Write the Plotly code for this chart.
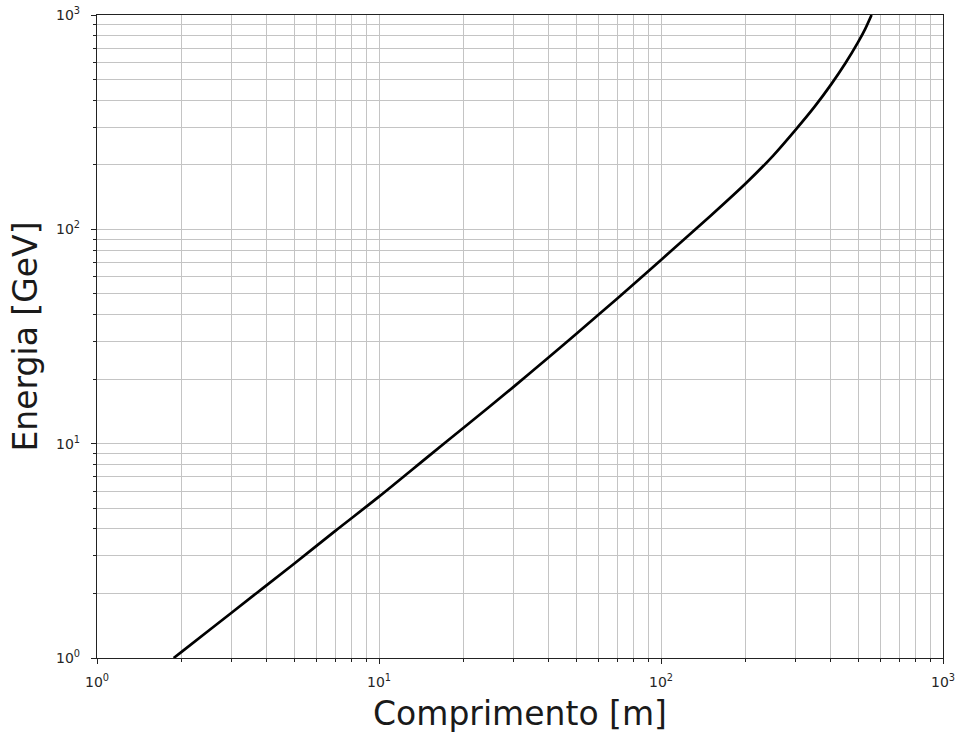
import plotly.graph_objects as go

# Data
comprimento_m = [1.87, 2, 3, 5, 7, 10, 15, 20, 30, 40, 50, 70, 100, 150, 200, 250,
                 300, 350, 400, 450, 500, 530, 558]
energia_gev = [1.0, 1.071, 1.627, 2.754, 3.92, 5.66, 8.75, 11.9, 18.4, 25.3, 32.5, 47.6,
               72, 115.7, 164, 220.8, 291, 372.4, 472, 593.6, 747, 861.7, 1000]

major_vals = [1, 10, 100, 1000]
major_text = ["10<sup>0</sup>", "10<sup>1</sup>", "10<sup>2</sup>", "10<sup>3</sup>"]
minor_vals = [m * d for d in [1, 10, 100] for m in range(2, 10)]

x_title = "Comprimento [m]"
y_title = "Energia [GeV]"

fig = go.Figure()
fig.add_trace(go.Scatter(x=comprimento_m, y=energia_gev, mode="lines",
                         line=dict(color="black", width=2.7, shape="spline", smoothing=0.8),
                         showlegend=False))

axis_common = dict(
    type="log",
    tickmode="array",
    tickvals=major_vals,
    ticktext=major_text,
    ticks="outside",
    ticklen=5,
    tickwidth=1,
    tickcolor="#222",
    showline=True,
    linecolor="#222",
    linewidth=1.2,
    mirror=True,
    showgrid=True,
    gridcolor="#c4c4c4",
    gridwidth=1,
    zeroline=False,
    automargin=False,
    tickfont=dict(family="DejaVu Sans", size=14, color="#262626"),
    minor=dict(tickmode="array", tickvals=minor_vals, ticks="outside", ticklen=3,
               tickcolor="#222", showgrid=True, gridcolor="#c4c4c4", gridwidth=1),
)

fig.update_layout(
    width=957, height=733,
    margin=dict(l=97, r=14, t=15, b=75, autoexpand=False),
    plot_bgcolor="white", paper_bgcolor="white",
    xaxis=dict(axis_common, range=[0, 3], ticklabelstandoff=6,
               title=dict(text=x_title, font=dict(family="DejaVu Sans", size=33, color="#1a1a1a"),
                          standoff=12)),
    yaxis=dict(axis_common, range=[0, 3], ticklabelstandoff=8,
               title=dict(text=y_title, font=dict(family="DejaVu Sans", size=33, color="#1a1a1a"),
                          standoff=8)),
)

fig.write_html("out.html", config={"displayModeBar": False},
               post_script="document.body.style.margin='0';document.body.style.overflow='hidden';")
